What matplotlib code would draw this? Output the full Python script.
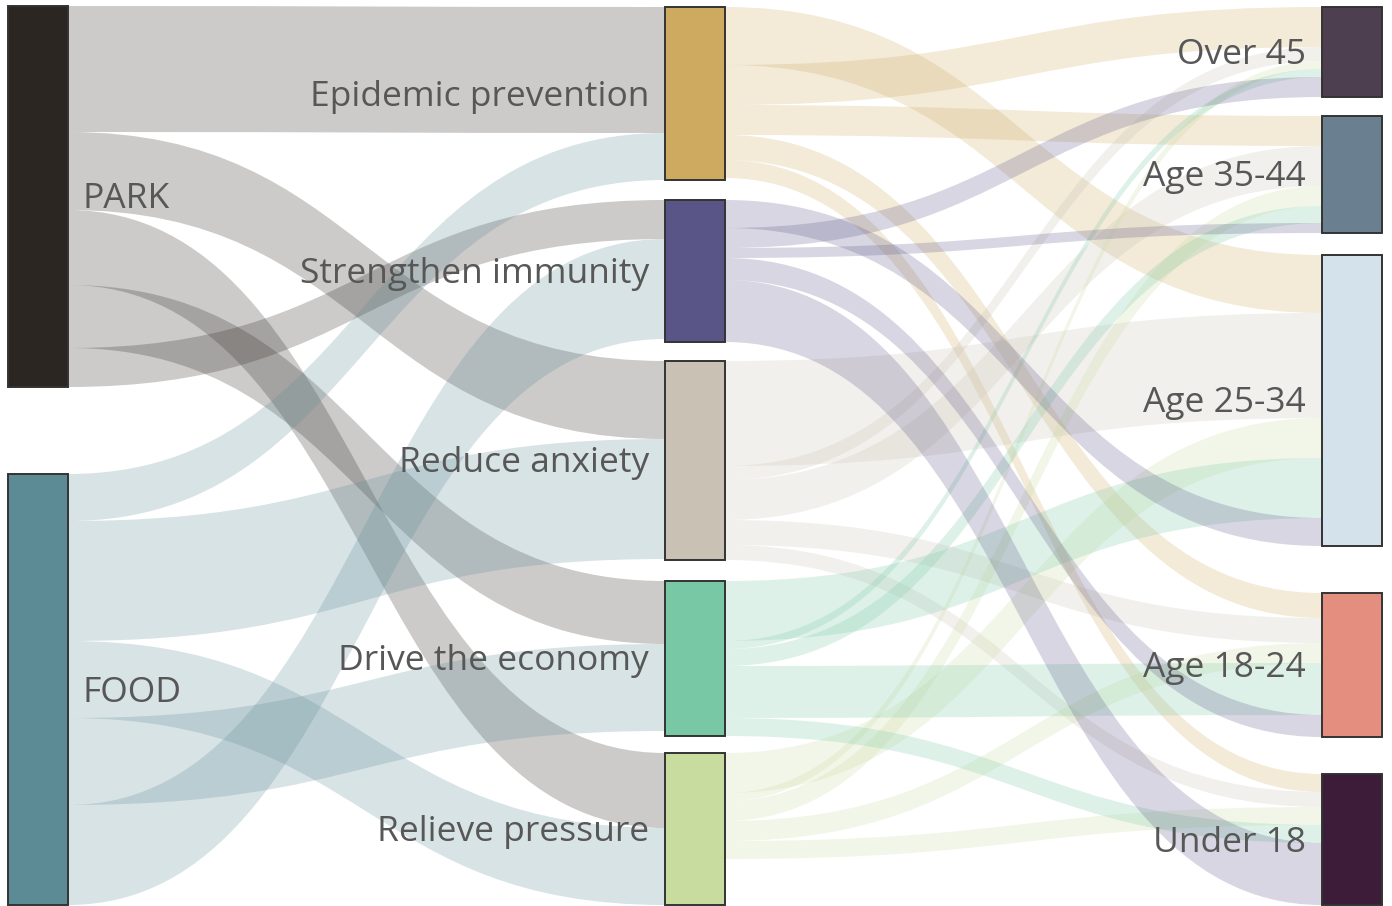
import matplotlib
matplotlib.use("Agg")
import matplotlib.pyplot as plt
from matplotlib.path import Path
from matplotlib.patches import PathPatch, Rectangle

# ---- data -------------------------------------------------------------
places = ["PARK", "FOOD"]
purposes = ["Epidemic prevention", "Strengthen immunity", "Reduce anxiety",
            "Drive the economy", "Relieve pressure"]
age_groups = ["Over 45", "Age 35-44", "Age 25-34", "Age 18-24", "Under 18"]

# place -> purpose (links listed in stacking order)
purpose_order = ["Epidemic prevention", "Reduce anxiety", "Relieve pressure",
                 "Drive the economy", "Strengthen immunity"]
park_values = [126, 78, 75, 63, 39]
food_values = [47, 120, 77, 87, 100]

# purpose -> age group
age_order = ["Age 25-34", "Over 45", "Age 35-44", "Age 18-24", "Under 18"]
epidemic_values = [58, 40, 30, 25, 18]
anxiety_values = [105, 14, 40, 25, 15]
pressure_values = [40, 8, 20, 20, 18]
economy_values = [60, 8, 17, 52, 18]
immunity_values = [28, 20, 10, 22, 62]

# ---- style / layout ---------------------------------------------------
node_colors = {
    "PARK": "#2c2622", "FOOD": "#5c8b96",
    "Epidemic prevention": "#cdaa5f", "Strengthen immunity": "#595587",
    "Reduce anxiety": "#c9c1b3", "Drive the economy": "#78c8a5",
    "Relieve pressure": "#c9dca0",
    "Over 45": "#4d3f50", "Age 35-44": "#6a8090", "Age 25-34": "#d4e2ec",
    "Age 18-24": "#e48e80", "Under 18": "#3d1c3a",
}
column_x = [8, 665, 1322]
node_w = 60
node_top = {
    "PARK": 6, "FOOD": 474,
    "Epidemic prevention": 7, "Strengthen immunity": 200, "Reduce anxiety": 361,
    "Drive the economy": 581, "Relieve pressure": 753,
    "Over 45": 7, "Age 35-44": 116, "Age 25-34": 255, "Age 18-24": 593,
    "Under 18": 774,
}
scale = 1.0
link_alpha = 0.24
label_color = "#575757"
label_size = 25.5

# ---- assemble links ---------------------------------------------------
links = []
for src, vals in (("PARK", park_values), ("FOOD", food_values)):
    for tgt, v in zip(purpose_order, vals):
        links.append((src, tgt, v))
for src, vals in (("Epidemic prevention", epidemic_values),
                  ("Reduce anxiety", anxiety_values),
                  ("Relieve pressure", pressure_values),
                  ("Drive the economy", economy_values),
                  ("Strengthen immunity", immunity_values)):
    for tgt, v in zip(age_order, vals):
        links.append((src, tgt, v))

col_of = {}
for n in places:
    col_of[n] = 0
for n in purposes:
    col_of[n] = 1
for n in age_groups:
    col_of[n] = 2

in_sum = {n: 0 for n in node_colors}
out_sum = {n: 0 for n in node_colors}
for s, t, v in links:
    out_sum[s] += v
    in_sum[t] += v
node_val = {n: max(in_sum[n], out_sum[n]) for n in node_colors}

# ---- draw -------------------------------------------------------------
fig = plt.figure(figsize=(13.92, 9.06), dpi=100)
ax = fig.add_axes([0, 0, 1, 1])
ax.set_xlim(0, 1392)
ax.set_ylim(906, 0)
ax.axis("off")

out_off = {n: 0.0 for n in node_colors}
in_off = {n: 0.0 for n in node_colors}
for s, t, v in links:
    h = v * scale
    x0 = column_x[col_of[s]] + node_w
    x1 = column_x[col_of[t]]
    y0 = node_top[s] + out_off[s]
    y1 = node_top[t] + in_off[t]
    out_off[s] += h
    in_off[t] += h
    xm = (x0 + x1) / 2
    verts = [(x0, y0), (xm, y0), (xm, y1), (x1, y1),
             (x1, y1 + h), (xm, y1 + h), (xm, y0 + h), (x0, y0 + h),
             (x0, y0)]
    codes = [Path.MOVETO, Path.CURVE4, Path.CURVE4, Path.CURVE4,
             Path.LINETO, Path.CURVE4, Path.CURVE4, Path.CURVE4,
             Path.CLOSEPOLY]
    ax.add_patch(PathPatch(Path(verts, codes), facecolor=node_colors[s],
                           edgecolor="none", alpha=link_alpha, zorder=1))

for n, c in node_colors.items():
    x = column_x[col_of[n]]
    y = node_top[n]
    h = node_val[n] * scale
    ax.add_patch(Rectangle((x, y), node_w, h, facecolor=c,
                           edgecolor="#333333", linewidth=1.4, zorder=2))
    cy = y + h / 2 + 3
    if col_of[n] == 0:
        ax.text(x + node_w + 15, cy, n, ha="left", va="center",
                fontsize=label_size, color=label_color, family="Open Sans",
                zorder=3)
    else:
        ax.text(x - 16, cy, n, ha="right", va="center",
                fontsize=label_size, color=label_color, family="Open Sans",
                zorder=3)

fig.savefig("out.png", dpi=100, facecolor="white")
